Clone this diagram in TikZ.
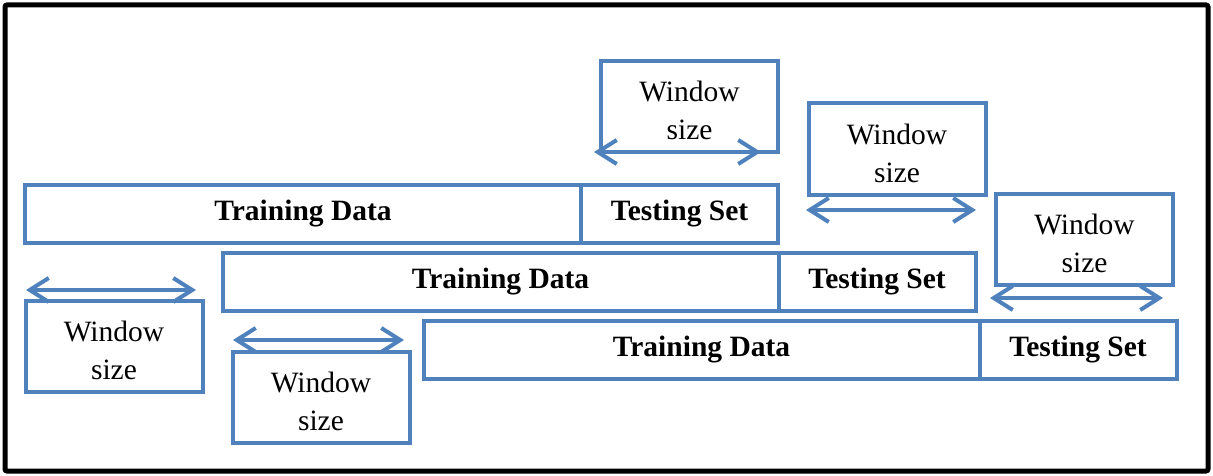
\documentclass[tikz,border=0pt]{standalone}
\usepackage{fontspec}
\setmainfont{Liberation Serif}
\usetikzlibrary{arrows.meta}
\definecolor{blu}{HTML}{4F81BD}
\begin{document}
\begin{tikzpicture}[x=1pt,y=-1pt,
  box/.style={draw=blu, line width=4pt, rectangle, inner sep=0pt, minimum height=58pt,
    font=\fontsize{29.5}{38}\selectfont\bfseries},
  train/.style={box, minimum width=556pt},
  test/.style={box, minimum width=197pt},
  winbox/.style={draw=blu, line width=4pt, rectangle, inner sep=0pt, minimum width=177pt,
    minimum height=91pt,
    label={[align=center, inner sep=0pt, yshift=-4pt, font=\fontsize{29.5}{38}\selectfont]center:Window\\size}},
  span/.style={draw=blu, line width=4pt, {Straight Barb[length=19pt,width=24pt]}-{Straight Barb[length=19pt,width=24pt]}}]
\useasboundingbox (0,0) rectangle (1213,476);
\draw[line width=5pt, rounded corners=2pt] (5,5) rectangle (1208,471);
% rows
\node[train] (td1) at (303,214) {Training Data};
\node[test]  (ts1) at (679.5,214) {Testing Set};
\node[train] (td2) at (500.5,281.5) {Training Data};
\node[test]  (ts2) at (877,281.5) {Testing Set};
\node[train] (td3) at (701.5,349.5) {Training Data};
\node[test]  (ts3) at (1078,349.5) {Testing Set};
% window boxes
\node[winbox] (w1) at (689.5,106.5) {};
\node[winbox] (w2) at (897,149) {};
\node[winbox] (w3) at (1084.5,239.5) {};
\node[winbox] (w4) at (114,346) {};
\node[winbox] (w5) at (321,397) {};
% arrow ends
\coordinate (a1l) at (594,152); \coordinate (a1r) at (761,152);
\coordinate (a2l) at (806,210); \coordinate (a2r) at (976,210);
\coordinate (a3l) at (990,298); \coordinate (a3r) at (1163,298);
\coordinate (a4l) at (26,290);  \coordinate (a4r) at (196,290);
\coordinate (a5l) at (233,340); \coordinate (a5r) at (404,340);
\draw[span] (a1l) -- (a1r);
\draw[span] (a2l) -- (a2r);
\draw[span] (a3l) -- (a3r);
\draw[span] (a4l) -- (a4r);
\draw[span] (a5l) -- (a5r);
\end{tikzpicture}
\end{document}
